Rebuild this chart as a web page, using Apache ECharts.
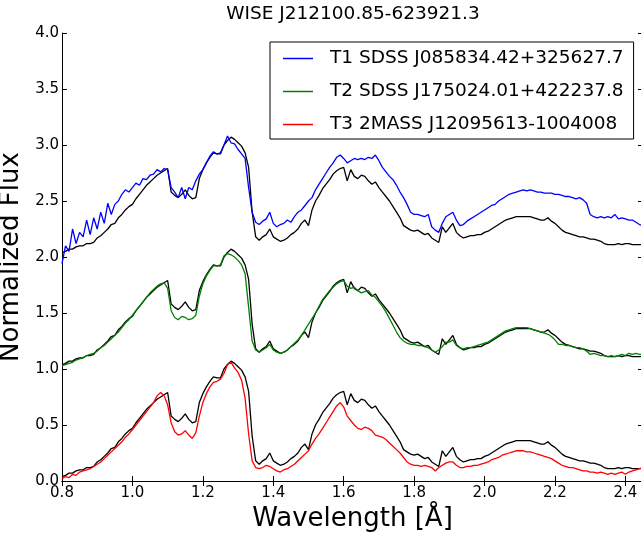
<!DOCTYPE html>
<html><head><meta charset="utf-8">
<script src="https://cdn.jsdelivr.net/npm/echarts@6/dist/echarts.min.js"></script>
<style>html,body{margin:0;padding:0;background:#fff}#c{width:641px;height:533px}</style>
</head><body><div id="c"></div>
<script>
// Wavelength grid (micron)
const wavelength = [
0.80,0.81,0.82,0.83,0.84,0.85,0.86,0.87,0.88,0.89,
0.90,0.91,0.92,0.93,0.94,0.95,0.96,0.97,0.98,0.99,
1.00,1.01,1.02,1.03,1.04,1.05,1.06,1.07,1.08,1.09,
1.10,1.11,1.12,1.13,1.14,1.15,1.16,1.17,1.18,1.19,
1.20,1.21,1.22,1.23,1.24,1.25,1.26,1.27,1.28,1.29,
1.30,1.31,1.32,1.33,1.34,1.35,1.36,1.37,1.38,1.39,
1.40,1.41,1.42,1.43,1.44,1.45,1.46,1.47,1.48,1.49,
1.50,1.51,1.52,1.53,1.54,1.55,1.56,1.57,1.58,1.59,
1.60,1.61,1.62,1.63,1.64,1.65,1.66,1.67,1.68,1.69,
1.70,1.71,1.72,1.73,1.74,1.75,1.76,1.77,1.78,1.79,
1.80,1.81,1.82,1.83,1.84,1.85,1.86,1.87,1.88,1.89,
1.90,1.91,1.92,1.93,1.94,1.95,1.96,1.97,1.98,1.99,
2.00,2.01,2.02,2.03,2.04,2.05,2.06,2.07,2.08,2.09,
2.10,2.11,2.12,2.13,2.14,2.15,2.16,2.17,2.18,2.19,
2.20,2.21,2.22,2.23,2.24,2.25,2.26,2.27,2.28,2.29,
2.30,2.31,2.32,2.33,2.34,2.35,2.36,2.37,2.38,2.39,
2.40,2.41,2.42,2.43,2.44,2.45];

// WISE J212100.85-623921.3 normalized flux
const target = [
0.04,0.05,0.07,0.07,0.09,0.10,0.10,0.12,0.12,0.13,
0.17,0.19,0.22,0.25,0.29,0.30,0.35,0.38,0.42,0.45,
0.47,0.52,0.56,0.60,0.64,0.67,0.70,0.73,0.75,0.77,
0.79,0.58,0.55,0.53,0.56,0.60,0.55,0.52,0.53,0.70,
0.78,0.84,0.89,0.93,0.92,0.92,1.00,1.04,1.07,1.05,
1.02,0.99,0.93,0.80,0.40,0.18,0.15,0.18,0.20,0.25,
0.18,0.16,0.14,0.15,0.17,0.20,0.22,0.25,0.30,0.33,
0.28,0.42,0.50,0.55,0.61,0.65,0.69,0.74,0.77,0.79,
0.80,0.68,0.78,0.72,0.70,0.73,0.72,0.68,0.65,0.67,
0.62,0.58,0.54,0.50,0.45,0.40,0.35,0.28,0.26,0.24,
0.23,0.24,0.22,0.20,0.21,0.17,0.15,0.13,0.27,0.22,
0.26,0.30,0.22,0.19,0.17,0.18,0.19,0.19,0.20,0.20,
0.22,0.23,0.25,0.27,0.29,0.31,0.33,0.34,0.35,0.36,
0.36,0.36,0.36,0.36,0.35,0.34,0.33,0.33,0.35,0.32,
0.30,0.27,0.24,0.22,0.21,0.20,0.19,0.18,0.18,0.17,
0.16,0.16,0.15,0.14,0.12,0.11,0.11,0.11,0.12,0.11,
0.12,0.12,0.11,0.11,0.11,0.11];

// T1 SDSS J085834.42+325627.7 (plotted with offset +2)
const t1 = [
-0.06,0.10,0.05,0.25,0.12,0.22,0.18,0.33,0.20,0.35,
0.25,0.40,0.30,0.48,0.38,0.47,0.50,0.56,0.60,0.58,
0.62,0.66,0.64,0.70,0.69,0.73,0.74,0.78,0.76,0.79,
0.78,0.62,0.58,0.53,0.62,0.52,0.62,0.60,0.68,0.74,
0.78,0.84,0.90,0.94,0.92,0.93,1.00,1.08,1.02,1.01,
0.96,0.92,0.88,0.62,0.40,0.31,0.29,0.32,0.34,0.40,
0.30,0.27,0.29,0.30,0.33,0.31,0.36,0.40,0.42,0.46,
0.50,0.53,0.60,0.65,0.70,0.75,0.80,0.84,0.89,0.91,
0.88,0.84,0.86,0.88,0.87,0.88,0.87,0.89,0.88,0.91,
0.86,0.80,0.76,0.72,0.69,0.64,0.58,0.53,0.47,0.40,
0.38,0.38,0.37,0.36,0.38,0.27,0.24,0.22,0.30,0.36,
0.38,0.40,0.33,0.28,0.29,0.32,0.34,0.36,0.38,0.40,
0.42,0.44,0.46,0.47,0.50,0.52,0.54,0.56,0.57,0.58,
0.59,0.60,0.59,0.60,0.59,0.58,0.58,0.57,0.57,0.57,
0.56,0.56,0.55,0.54,0.54,0.53,0.52,0.53,0.51,0.48,
0.38,0.36,0.35,0.36,0.35,0.36,0.35,0.38,0.34,0.35,
0.34,0.33,0.33,0.31,0.29,0.28];

// T2 SDSS J175024.01+422237.8 (plotted with offset +1)
const t2 = [
0.03,0.04,0.05,0.06,0.08,0.09,0.10,0.12,0.13,0.14,
0.16,0.19,0.21,0.24,0.27,0.30,0.33,0.37,0.41,0.44,
0.48,0.52,0.56,0.60,0.64,0.68,0.71,0.74,0.76,0.77,
0.72,0.52,0.46,0.44,0.47,0.46,0.44,0.45,0.48,0.65,
0.76,0.83,0.88,0.92,0.92,0.93,1.01,1.03,1.02,1.00,
0.97,0.93,0.85,0.55,0.25,0.17,0.15,0.17,0.19,0.22,
0.17,0.15,0.14,0.15,0.17,0.20,0.23,0.26,0.30,0.35,
0.40,0.45,0.50,0.56,0.62,0.66,0.70,0.73,0.76,0.78,
0.79,0.74,0.72,0.73,0.70,0.68,0.69,0.70,0.66,0.64,
0.60,0.56,0.51,0.45,0.39,0.33,0.28,0.25,0.23,0.22,
0.22,0.21,0.21,0.20,0.19,0.17,0.15,0.17,0.20,0.24,
0.24,0.26,0.21,0.19,0.18,0.19,0.19,0.20,0.21,0.22,
0.23,0.24,0.26,0.28,0.30,0.32,0.34,0.35,0.36,0.37,
0.37,0.37,0.37,0.36,0.35,0.34,0.33,0.32,0.31,0.29,
0.26,0.22,0.22,0.21,0.21,0.20,0.19,0.19,0.18,0.16,
0.13,0.14,0.13,0.12,0.12,0.11,0.12,0.11,0.12,0.13,
0.12,0.14,0.13,0.14,0.13,0.13];

// T3 2MASS J12095613-1004008 (no offset)
const t3 = [
0.02,0.04,0.03,0.06,0.05,0.08,0.09,0.10,0.11,0.13,
0.15,0.17,0.20,0.23,0.26,0.29,0.32,0.35,0.39,0.42,
0.46,0.50,0.54,0.58,0.62,0.66,0.70,0.76,0.79,0.76,
0.68,0.52,0.44,0.41,0.42,0.45,0.41,0.38,0.43,0.58,
0.70,0.78,0.84,0.88,0.89,0.91,0.96,1.04,1.06,1.01,
0.97,0.90,0.74,0.42,0.18,0.12,0.11,0.12,0.14,0.13,
0.11,0.09,0.08,0.10,0.11,0.13,0.15,0.18,0.21,0.24,
0.27,0.33,0.38,0.42,0.47,0.52,0.57,0.62,0.67,0.70,
0.66,0.58,0.54,0.50,0.47,0.46,0.48,0.47,0.45,0.41,
0.40,0.39,0.37,0.34,0.31,0.28,0.25,0.21,0.17,0.15,
0.14,0.14,0.13,0.14,0.13,0.12,0.09,0.12,0.14,0.16,
0.17,0.17,0.14,0.12,0.12,0.13,0.13,0.14,0.14,0.15,
0.16,0.17,0.19,0.20,0.21,0.23,0.24,0.25,0.26,0.27,
0.27,0.27,0.26,0.26,0.25,0.24,0.23,0.22,0.21,0.20,
0.18,0.16,0.14,0.13,0.12,0.12,0.11,0.10,0.09,0.09,
0.08,0.08,0.07,0.08,0.07,0.06,0.07,0.06,0.07,0.08,
0.06,0.08,0.09,0.10,0.11,0.12];

const templateNames = ['T1 SDSS J085834.42+325627.7', 'T2 SDSS J175024.01+422237.8', 'T3 2MASS J12095613-1004008'];
const templateColors = ['#0000ff', '#008000', '#ff0000'];
const offsets = [2, 1, 0];
const xTicks = [0.8, 1.0, 1.2, 1.4, 1.6, 1.8, 2.0, 2.2, 2.4];
const yTicks = [0.0, 0.5, 1.0, 1.5, 2.0, 2.5, 3.0, 3.5, 4.0];

const FONT = 'DejaVu Sans';
const templates = [t1, t2, t3];
function pairs(arr, off) { return wavelength.map((w, i) => [w, +(arr[i] + off).toFixed(3)]); }

const series = [];
offsets.forEach((off, k) => {
  series.push({ name: 'target' + k, type: 'line', data: pairs(target, off), showSymbol: false, symbol: 'none',
    lineStyle: { color: '#000', width: 1.3 }, itemStyle: { color: '#000' }, silent: true, z: 2 });
});
templates.forEach((arr, k) => {
  series.push({ name: templateNames[k], type: 'line', data: pairs(arr, offsets[k]), showSymbol: false, symbol: 'none',
    lineStyle: { color: templateColors[k], width: 1.3 }, itemStyle: { color: templateColors[k] }, silent: true, z: 3 });
});

const tick = { inside: true, length: 5, lineStyle: { color: '#000', width: 1 } };
const line = { show: true, lineStyle: { color: '#000', width: 1 } };
const xBase = { type: 'value', min: 0.8, max: 2.45, interval: 0.2, splitLine: { show: false }, axisLine: line, axisTick: tick };
const yBase = { type: 'value', min: 0, max: 4, interval: 0.5, splitLine: { show: false }, axisLine: line, axisTick: tick };

const chart = echarts.init(document.getElementById('c'), null, { renderer: 'canvas' });
chart.setOption({
  animation: false,
  backgroundColor: '#fff',
  grid: { left: 62, top: 33, right: -2, bottom: 52, containLabel: false, outerBoundsMode: 'none' },
  graphic: [{ type: 'text', x: 353, y: 14, style: { text: 'WISE J212100.85-623921.3', font: '18.5px "DejaVu Sans"', fill: '#000', textAlign: 'center', textVerticalAlign: 'middle' } }],
  legend: {
    data: templateNames, orient: 'vertical', left: 270, top: 42,
    padding: [7, 10, 5, 13], itemGap: 14, itemWidth: 30, itemHeight: 1.5, icon: 'rect',
    borderColor: '#000', borderWidth: 1, borderRadius: 0, backgroundColor: '#fff',
    textStyle: { fontFamily: FONT, fontSize: 18.5, color: '#000', padding: [0, 0, 0, 12] },
    selectedMode: false
  },
  xAxis: [
    Object.assign({}, xBase, { position: 'bottom', name: 'Wavelength [Å]', nameLocation: 'middle', nameGap: 25,
      nameTextStyle: { fontFamily: FONT, fontSize: 26, color: '#000' },
      axisLabel: { fontFamily: FONT, fontSize: 15, color: '#000', margin: 5, showMaxLabel: false,
        formatter: v => xTicks.some(t => Math.abs(t - v) < 1e-6) ? v.toFixed(1) : '' } }),
    Object.assign({}, xBase, { position: 'top', axisLabel: { show: false } })
  ],
  yAxis: [
    Object.assign({}, yBase, { position: 'left', name: 'Normalized Flux', nameLocation: 'middle', nameGap: 26,
      nameTextStyle: { fontFamily: FONT, fontSize: 26, color: '#000' },
      axisLabel: { fontFamily: FONT, fontSize: 15, color: '#000', margin: 3,
        formatter: v => yTicks.some(t => Math.abs(t - v) < 1e-6) ? v.toFixed(1) : '' } }),
    Object.assign({}, yBase, { position: 'right', axisLabel: { show: false } })
  ],
  series: series
});
</script></body></html>
